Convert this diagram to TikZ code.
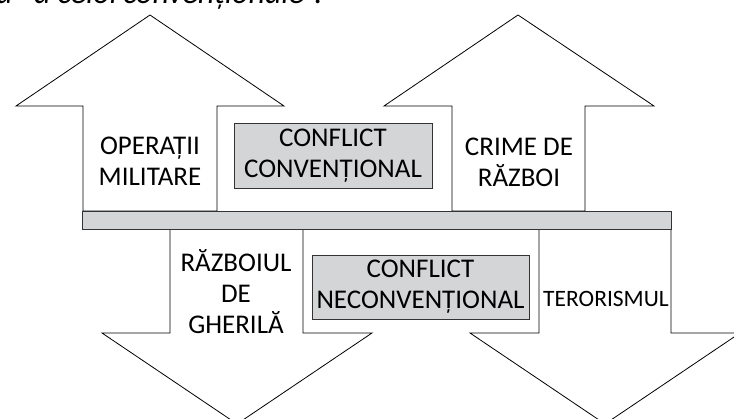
\documentclass[tikz,border=0pt]{standalone}
\usepackage{fontspec}
\setmainfont{Carlito}
\definecolor{boxgray}{HTML}{D4D5D7}
\begin{document}
\begin{tikzpicture}[x=1pt,y=-1pt,
  arrowshape/.style={draw=black, line width=0.8pt, fill=white, line join=miter},
  graybox/.style={draw=black!80, line width=0.8pt, fill=boxgray},
  lbl/.style={align=center, font=\fontsize{27}{31}\selectfont, inner sep=0pt},
]
\useasboundingbox (0,0) rectangle (734,419);
\clip (0,0) rectangle (734,419);

% line of running text above the figure
\node[anchor=base west, inner sep=0pt, font=\fontsize{32}{36}\selectfont\itshape] (caption) at (-4,4) {ă”\hspace{8pt}a celor\hspace{-5pt} convenționale”.};

% upward arrows
\path[arrowshape] (150,15) -- (284,106) -- (217,106) -- (217,211) -- (83,211) -- (83,106) -- (16,106) -- cycle;
\path[arrowshape] (518,15) -- (654,106) -- (585,106) -- (585,211) -- (452,211) -- (452,106) -- (384,106) -- cycle;

% downward arrows
\path[arrowshape] (170,229) -- (303,229) -- (303,333) -- (372,333) -- (237,424) -- (102,333) -- (170,333) -- cycle;
\path[arrowshape] (539,229) -- (671,229) -- (671,333) -- (740,333) -- (605,424) -- (470,333) -- (539,333) -- cycle;

% horizontal bar
\path[graybox] (82,211) rectangle (671,229);

% labelled boxes
\node[graybox, lbl, minimum width=198pt, minimum height=65pt] (conv) at (333,155.5) {CONFLICT\\CONVENȚIONAL};
\node[graybox, lbl, minimum width=217pt, minimum height=64pt] (neconv) at (420.5,287) {CONFLICT\\NECONVENȚIONAL};

% arrow labels (base anchor sits on the last line)
\node[lbl, anchor=base] (mil) at (150,186) {OPERAȚII\\MILITARE};
\node[lbl, anchor=base] (crime) at (519,187) {CRIME DE\\RĂZBOI};
\node[lbl, anchor=base] (gher) at (236,334) {RĂZBOIUL\\DE\\GHERILĂ};
\node[lbl, anchor=base, font=\fontsize{23.5}{28}\selectfont] (teror) at (606,307) {TERORISMUL};
\end{tikzpicture}
\end{document}
